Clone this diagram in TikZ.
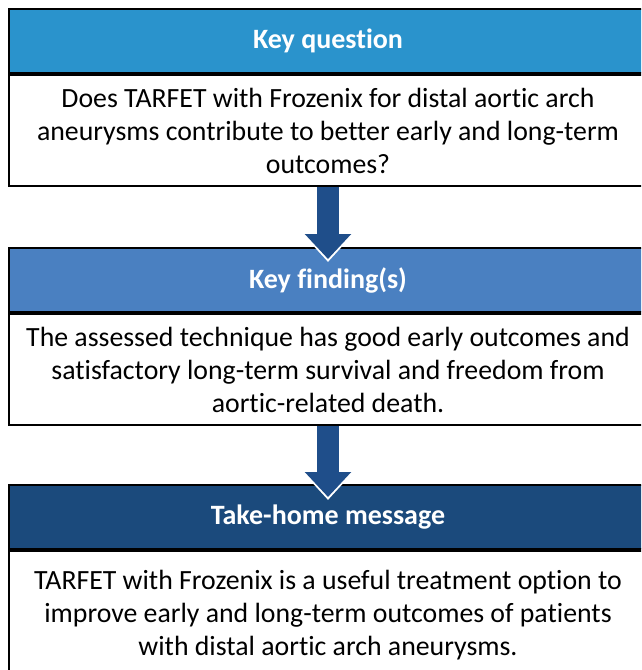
\documentclass[tikz,border=0pt]{standalone}
\usepackage{fontspec}
\setmainfont{Carlito}[Ligatures=NoCommon]
\usepackage{tikz}
\usetikzlibrary{arrows.meta,positioning}

\definecolor{qblue}{RGB}{42,147,204}
\definecolor{fblue}{RGB}{74,128,193}
\definecolor{mblue}{RGB}{27,74,124}
\definecolor{arrblue}{RGB}{31,78,138}

\begin{document}
\begin{tikzpicture}[
  head/.style={
    draw=black, line width=2pt, text=white,
    minimum width=638pt, minimum height=64pt, inner sep=0pt,
    font=\fontsize{28pt}{33pt}\selectfont\bfseries, align=center
  },
  body/.style={
    draw=black, line width=2pt, fill=white,
    minimum width=638pt, minimum height=111pt, inner sep=0pt,
    font=\fontsize{27.8pt}{33pt}\selectfont, align=center
  },
  under/.style={white, line width=8pt,
    -{Triangle[width=51pt,length=29pt]}},
  arr/.style={arrblue, line width=22pt,
    -{Triangle[width=45pt,length=25pt]}},
]
\path[use as bounding box, clip] (0,0) rectangle (641pt,-670pt);
\fill[white] (0,0) rectangle (641pt,-670pt);

\node[head, fill=qblue, anchor=north west] (qhead) at (8pt,-8pt) {Key question};
\node[body, below=0pt of qhead] (qbody)
  {Does TARFET with Frozenix for distal aortic arch\\
   aneurysms contribute to better early and long-term\\
   outcomes?};

\node[head, fill=fblue, below=60pt of qbody] (fhead) {Key finding(s)};
\node[body, below=0pt of fhead] (fbody)
  {The assessed technique has good early outcomes and\\
   satisfactory long-term survival and freedom from\\
   aortic-related death.};

\node[head, fill=mblue, below=58pt of fbody] (mhead) {Take-home message};
\node[body, minimum height=128pt, below=0pt of mhead] (mbody)
  {TARFET with Frozenix is a useful treatment option to\\
   improve early and long-term outcomes of patients\\
   with distal aortic arch aneurysms.};

% white rim first, then the arrow on top
\draw[under] ([yshift=-8pt]qbody.south) -- ([yshift=-15pt]fhead.north);
\draw[arr] (qbody.south) -- ([yshift=-12pt]fhead.north);
\draw[under] ([yshift=-8pt]fbody.south) -- ([yshift=-16pt]mhead.north);
\draw[arr] (fbody.south) -- ([yshift=-13pt]mhead.north);
\end{tikzpicture}
\end{document}
